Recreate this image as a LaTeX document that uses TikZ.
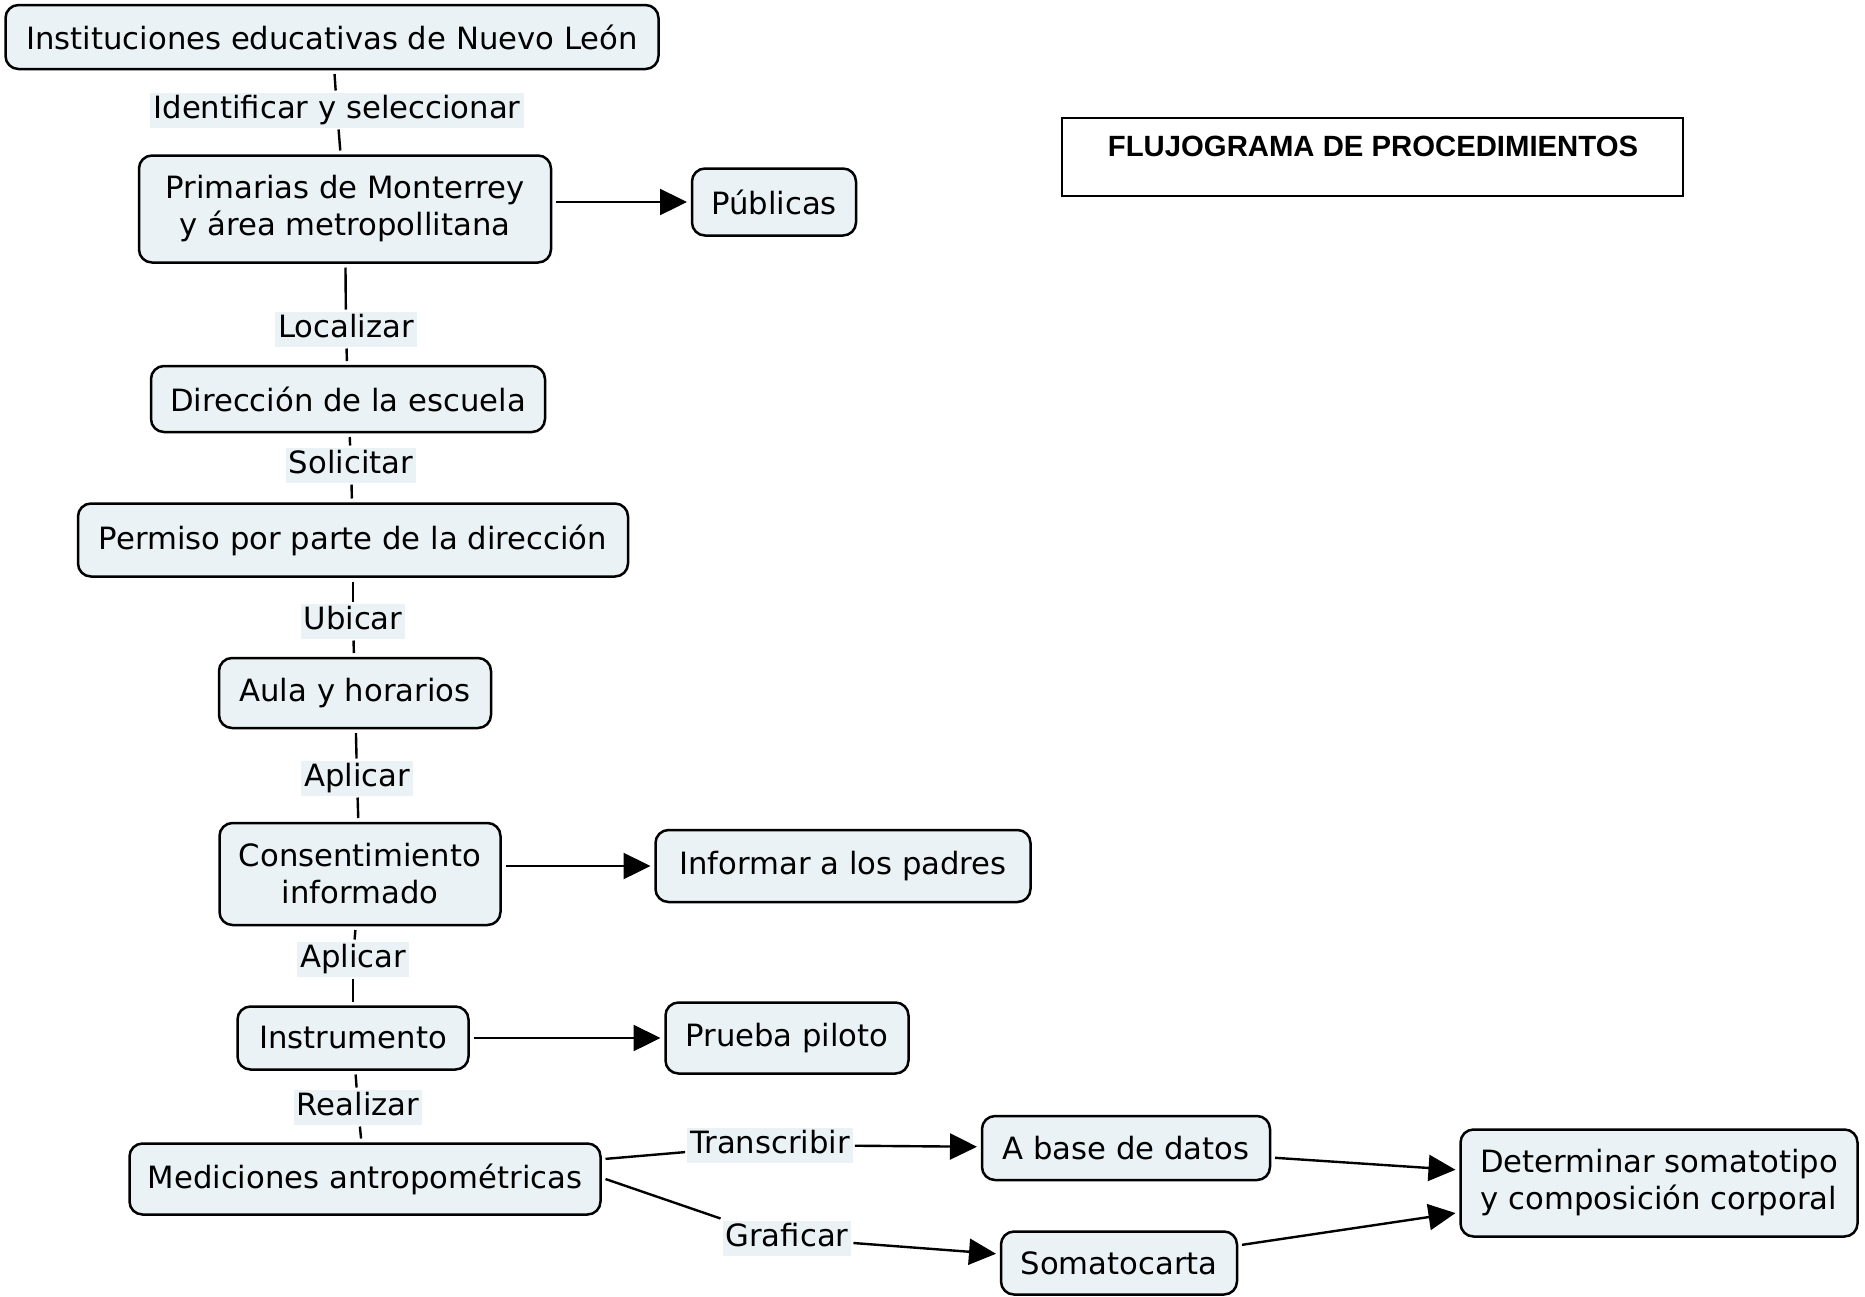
\documentclass[tikz,border=0pt]{standalone}
\usepackage{fontspec}
\setmainfont{DejaVu Sans}
\newfontfamily\titlefont{Liberation Sans}
\usetikzlibrary{arrows.meta}
\definecolor{boxfill}{RGB}{234,242,245}
\begin{document}
\begin{tikzpicture}[x=1pt,y=-1pt,
  box/.style={draw, line width=2.5pt, rounded corners=13pt, fill=boxfill, align=center, inner sep=0pt, outer sep=5pt, font=\fontsize{30.7}{37}\selectfont},
  lbl/.style={fill=boxfill, inner xsep=3pt, inner ysep=2.5pt, text height=23pt, text depth=7pt, outer sep=2pt, font=\fontsize{30.7}{37}\selectfont},
  link/.style={line width=2.4pt},
  arr/.style={line width=2.4pt, -{Triangle[length=27pt,width=26pt]}}
]
\useasboundingbox (0,0) rectangle (1865,1296);

% title
\node[draw, line width=1.5pt, minimum width=621pt, minimum height=78pt, inner sep=0pt] (titlebox) at (1372.5,157) {};
\node[font=\titlefont\bfseries\fontsize{29.3}{34}\selectfont, inner sep=0pt, anchor=base] (title) at (1373,156) {FLUJOGRAMA DE PROCEDIMIENTOS};

% boxes
\node[box, minimum width=653pt, minimum height=64pt] (inst) at (332,37) {Instituciones educativas de Nuevo León};
\node[box, minimum width=412pt, minimum height=107pt] (prim) at (345,209) {Primarias de Monterrey\\ y área metropollitana};
\node[box, minimum width=164pt, minimum height=67pt] (pub) at (774,202) {Públicas};
\node[box, minimum width=394pt, minimum height=66pt] (dir) at (348,399) {Dirección de la escuela};
\node[box, minimum width=550pt, minimum height=73pt] (perm) at (353,540) {Permiso por parte de la dirección};
\node[box, minimum width=272pt, minimum height=70pt] (aula) at (355,693) {Aula y horarios};
\node[box, minimum width=281pt, minimum height=102pt] (cons) at (360,874) {Consentimiento\\informado};
\node[box, minimum width=375pt, minimum height=72pt] (inf) at (843,866) {Informar a los padres};
\node[box, minimum width=231pt, minimum height=63pt] (instr) at (353,1038) {Instrumento};
\node[box, minimum width=243pt, minimum height=71pt] (prueba) at (787,1038) {Prueba piloto};
\node[box, minimum width=471pt, minimum height=71pt] (med) at (365,1179) {Mediciones antropométricas};
\node[box, minimum width=288pt, minimum height=64pt] (abase) at (1126,1148) {A base de datos};
\node[box, minimum width=236pt, minimum height=63pt] (soma) at (1119,1263) {Somatocarta};
\node[box, minimum width=397pt, minimum height=107pt] (det) at (1659,1183) {Determinar somatotipo\\y composición corporal};

% labels
\node[lbl] (l1) at (337,110) {Identificar y seleccionar};
\node[lbl] (l2) at (346,329) {Localizar};
\node[lbl] (l3) at (351,465) {Solicitar};
\node[lbl] (l4) at (353,621) {Ubicar};
\node[lbl] (l5) at (357,778) {Aplicar};
\node[lbl] (l6) at (353,959) {Aplicar};
\node[lbl] (l7) at (358,1107) {Realizar};
\node[lbl] (l8) at (770,1145) {Transcribir};
\node[lbl] (l9) at (787,1238) {Graficar};

% connectors
\draw[link] (inst) -- (l1);
\draw[link] (l1) -- (prim);
\draw[arr] (prim.east |- pub) -- (pub);
\draw[link] (prim) -- (l2);
\draw[link] (l2) -- (dir);
\draw[link] (dir) -- (l3);
\draw[link] (l3) -- (perm);
\draw[link] (perm) -- (l4);
\draw[link] (l4) -- (aula);
\draw[link] (aula) -- (l5);
\draw[link] (l5) -- (cons);
\draw[arr] (cons.east |- inf) -- (inf);
\draw[link] (cons) -- (l6);
\draw[link] (l6) -- (instr);
\draw[arr] (instr) -- (prueba);
\draw[link] (instr) -- (l7);
\draw[link] (l7) -- (med);
\draw[link] (med) -- (l8);
\draw[arr] (l8) -- (abase);
\draw[link] (med.east) -- (l9.north west);
\draw[arr] (l9) -- (soma);
\draw[arr] (abase) -- (det);
\draw[arr] (soma) -- (det);
\end{tikzpicture}
\end{document}
